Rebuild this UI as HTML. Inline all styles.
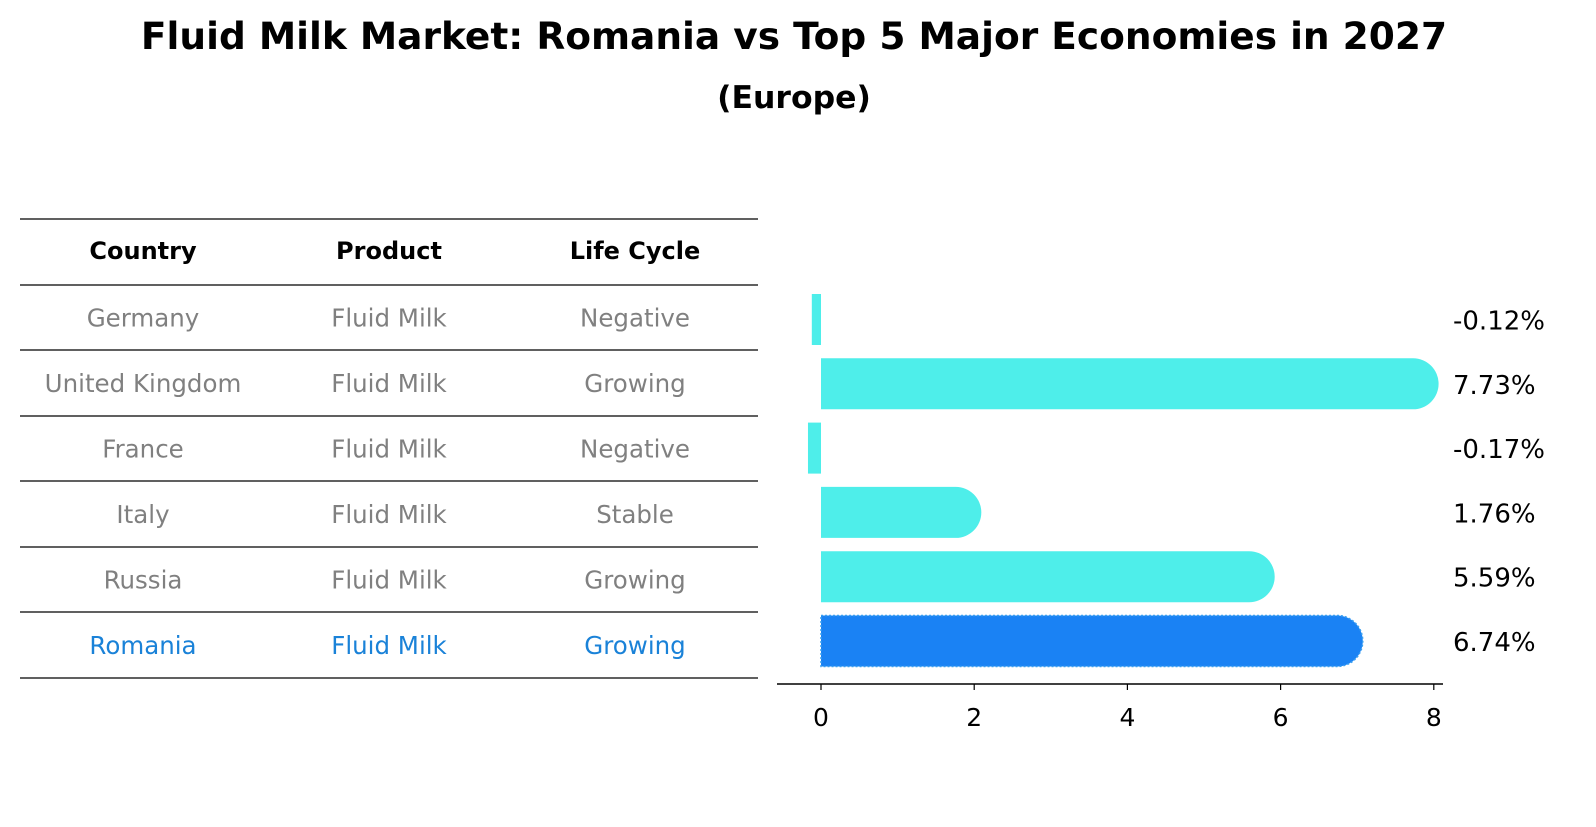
<!DOCTYPE html>
<html><head><meta charset="utf-8"><style>
body{margin:0;background:#fff;width:1596px;height:823px;overflow:hidden;font-family:"DejaVu Sans","Liberation Sans",sans-serif;}
</style></head><body>
<svg width="1596" height="823" xmlns="http://www.w3.org/2000/svg" font-family="DejaVu Sans, Liberation Sans, sans-serif">
<text x="794" y="49" text-anchor="middle" font-size="37.5" font-weight="bold">Fluid Milk Market: Romania vs Top 5 Major Economies in 2027</text>
<text x="794" y="108" text-anchor="middle" font-size="31.5" font-weight="bold">(Europe)</text>
<g id="table"></g>
<g id="bars"></g>
</svg>
<script>
const countries=["Germany","United Kingdom","France","Italy","Russia","Romania"];
const products=["Fluid Milk","Fluid Milk","Fluid Milk","Fluid Milk","Fluid Milk","Fluid Milk"];
const lifeCycles=["Negative","Growing","Negative","Stable","Growing","Growing"];
const growth=[-0.12,7.73,-0.17,1.76,5.59,6.74];
const xTicks=[0,2,4,6,8];
const NS="http://www.w3.org/2000/svg";
function mk(parent,tag,attrs){const e=document.createElementNS(NS,tag);for(const k in attrs)e.setAttribute(k,attrs[k]);parent.appendChild(e);return e;}
const tbl=document.getElementById('table');
const lineYs=[219,285,350,416,481,547,612,678];
lineYs.forEach((y,i)=>{const l=mk(tbl,'line',{x1:20,x2:758,y1:y,y2:y,stroke:'#000','stroke-width':1.2});

});
const colX=[143,389,635];
["Country","Product","Life Cycle"].forEach((h,j)=>{const t=mk(tbl,'text',{x:colX[j],y:259,'text-anchor':'middle','font-size':24,'font-weight':'bold'});t.textContent=h;

});
countries.forEach((c,i)=>{const y=(lineYs[i+1]+lineYs[i+2])/2+9;const col=c==="Romania"?'#1a82d8':'#808080';
[c,products[i],lifeCycles[i]].forEach((v,j)=>{const t=mk(tbl,'text',{x:colX[j],y:y,'text-anchor':'middle','font-size':24.5,fill:col});t.textContent=v;

});});
const g=document.getElementById('bars');
const x0=821,ppu=76.6;const xs=v=>x0+v*ppu;
const y0=319.5,step=64.3,bh=51,r=25.5;
growth.forEach((v,i)=>{const cy=y0+i*step;const isR=countries[i]==="Romania";const col=isR?'#1a82f4':'#4eeeea';
let el;
if(v>=0){const xe=xs(v);el=mk(g,'path',{d:`M${x0},${cy-bh/2} L${xe},${cy-bh/2} A${r},${r} 0 0 1 ${xe},${cy+bh/2} L${x0},${cy+bh/2} Z`,fill:col});
if(isR){el.setAttribute('stroke','#3aa0f0');el.setAttribute('stroke-width','1.5');el.setAttribute('stroke-dasharray','2 2');}}
else{el=mk(g,'rect',{x:xs(v),y:cy-bh/2,width:x0-xs(v),height:bh,fill:col});}


const t=mk(g,'text',{x:1453,y:cy+10,'font-size':26});t.textContent=v.toFixed(2)+'%';

});
const ax=mk(g,'line',{x1:777,x2:1443,y1:684,y2:684,stroke:'#000','stroke-width':1.5});


xTicks.forEach(v=>{const tk=mk(g,'line',{x1:xs(v),x2:xs(v),y1:684,y2:690,stroke:'#000','stroke-width':1.2});


const t=mk(g,'text',{x:xs(v),y:726,'text-anchor':'middle','font-size':25});t.textContent=v;

});
</script>
</body></html>
